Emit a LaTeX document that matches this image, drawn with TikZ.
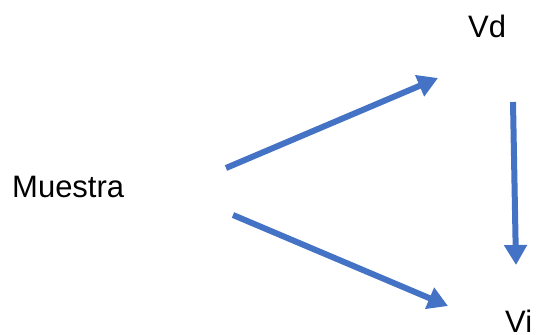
\documentclass[tikz,border=0pt]{standalone}
\usepackage{fontspec}
\setmainfont{Liberation Sans}
\usetikzlibrary{arrows.meta}
\definecolor{arrowblue}{HTML}{4472C4}
\tikzset{
  lbl/.style={font=\fontsize{31}{36}\selectfont, inner sep=0pt, anchor=base west, text=black},
  bluearrow/.style={draw=arrowblue, line width=6pt, -{Triangle[length=20pt,width=22pt]}}
}
\begin{document}
\begin{tikzpicture}[x=1pt,y=-1pt]
\useasboundingbox (0,0) rectangle (536,335);
\node[lbl] (muestra) at (12,197) {Muestra};
\node[lbl] (vd) at (468,37) {Vd};
\node[lbl] (vi) at (505,332) {Vi};
\coordinate (a1s) at (226,168);
\coordinate (a1e) at (438,78);
\coordinate (a2s) at (233,215);
\coordinate (a2e) at (448,306);
\coordinate (a3s) at (513,102);
\coordinate (a3e) at (516,265);
\draw[bluearrow] (a1s) -- (a1e);
\draw[bluearrow] (a2s) -- (a2e);
\draw[bluearrow] (a3s) -- (a3e);
\end{tikzpicture}
\end{document}
